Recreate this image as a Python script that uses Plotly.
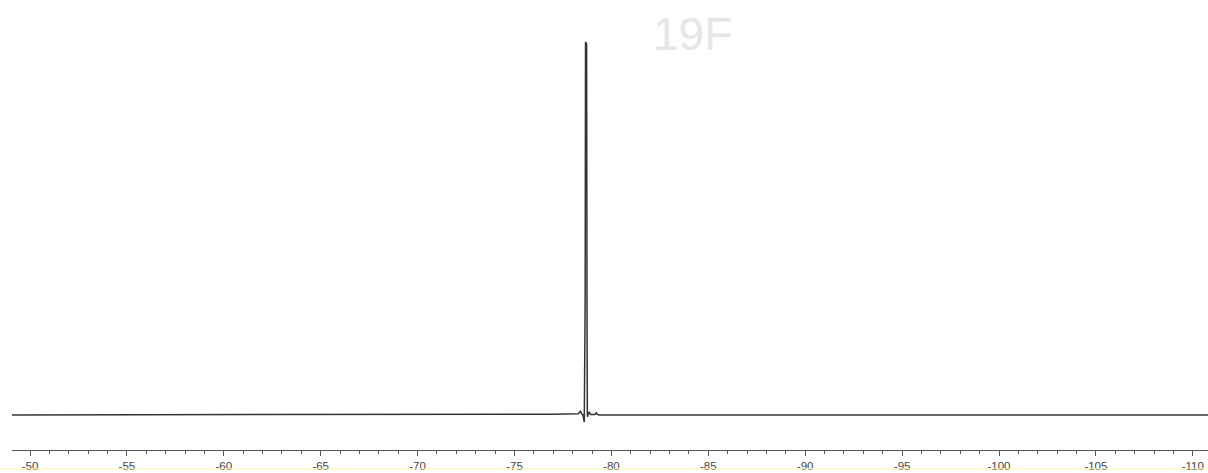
import plotly.graph_objects as go

# 19F spectrum trace: chemical shift (ppm) and relative intensity
shift_ppm = [-49.07, -70.00, -77.00, -78.30, -78.40, -78.46, -78.53, -78.60,
             -78.645, -78.665, -78.72, -78.745, -78.76, -78.80, -78.86, -78.92,
             -79.15, -79.22, -79.29, -79.40, -110.78]
intensity = [0.0, 0.0, 0.2, 0.3, 1.1, 0.3, 0.0, -1.9,
             30.0, 100.0, 99.5, 20.0, -0.5, 0.2, 0.8, 0.1,
             0.1, 0.6, 0.1, 0.0, 0.0]

major_ticks = [-50, -55, -60, -65, -70, -75, -80, -85, -90, -95, -100, -105, -110]
tick_labels = [str(t) for t in major_ticks]

fig = go.Figure()
fig.add_trace(go.Scatter(
    x=shift_ppm, y=intensity, mode="lines",
    line=dict(color="#333333", width=1.5),
    hoverinfo="skip", showlegend=False,
))

fig.update_layout(
    width=1208, height=473,
    margin=dict(l=12, r=0, t=0, b=23),
    paper_bgcolor="white", plot_bgcolor="white",
    xaxis=dict(
        range=[-49.071, -110.784], automargin=False,
        tickmode="array", tickvals=major_ticks, ticktext=tick_labels,
        ticks="outside", ticklen=5, tickwidth=1, tickcolor="#555555",
        minor=dict(dtick=1, ticks="outside", ticklen=3, tickcolor="#555555", tick0=-50),
        showline=True, linecolor="#555555", linewidth=1,
        showgrid=False, zeroline=False,
        tickfont=dict(family="Arial, Liberation Sans, sans-serif", size=11.5, color="#444444"),
    ),
    yaxis=dict(
        range=[-9.4, 111.26], visible=False, showgrid=False, zeroline=False,
    ),
    annotations=[dict(
        text="19F", xref="paper", yref="paper", x=0.5686, y=0.9245,
        xanchor="center", yanchor="middle", showarrow=False,
        font=dict(family="Arial, Liberation Sans, sans-serif", size=46, color="#e6e6e6"),
    )],
    shapes=[dict(
        type="line", xref="paper", yref="paper",
        x0=-0.0101, x1=1.0, y0=-0.042, y1=-0.042,
        line=dict(color="#fff3a8", width=1),
    )],
)

fig.write_html("out.html")
